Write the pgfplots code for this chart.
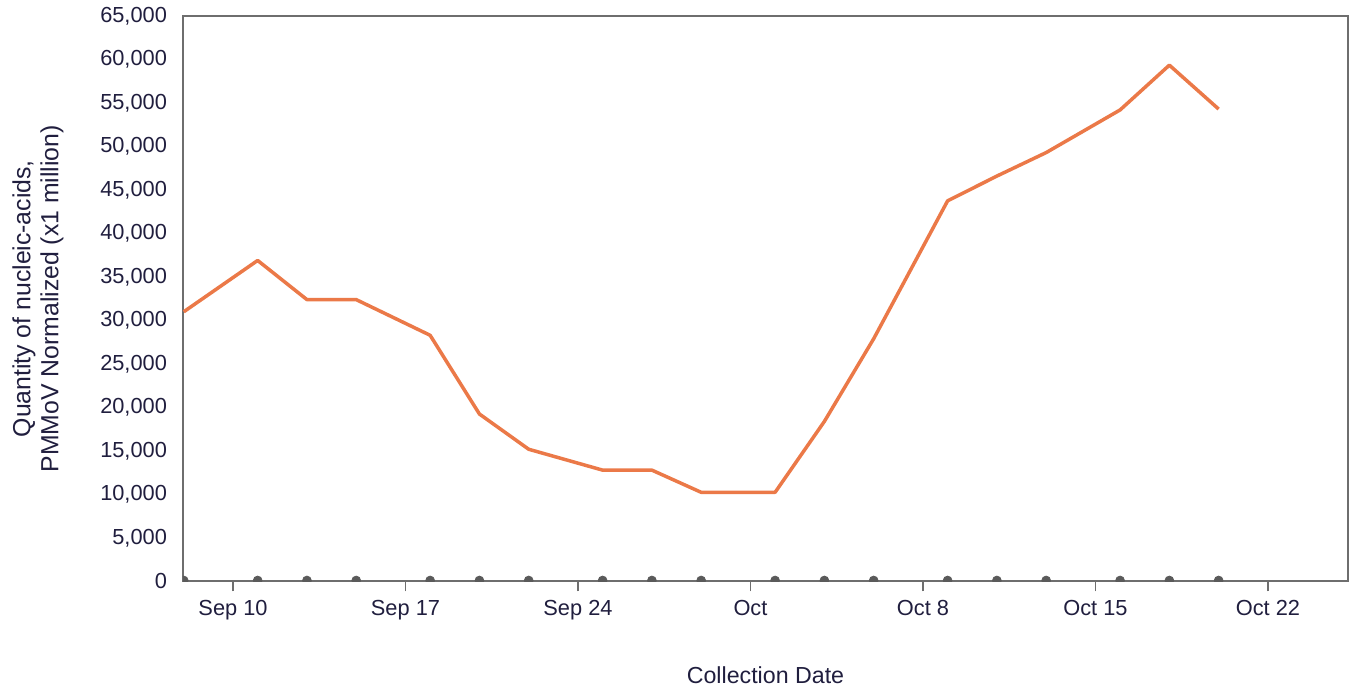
\documentclass[border=0pt]{standalone}
\usepackage{pgfplots}
\pgfplotsset{compat=1.18}
\usepackage{fontspec}
\setmainfont{Liberation Sans}
\definecolor{txt}{RGB}{32,30,62}
\definecolor{ln}{RGB}{235,121,72}
\definecolor{axc}{RGB}{110,110,110}
\definecolor{dotc}{RGB}{90,90,90}
\begin{document}
\begin{tikzpicture}
\path[use as bounding box] (-91.5pt,-54.25pt) rectangle (584pt,290.75pt);
\begin{axis}[at={(0,0)}, anchor=south west, scale only axis,
  width=582.5pt, height=282.75pt,
  xmin=-2.03, xmax=45.25, ymin=0, ymax=65000,
  xtick={0,7,14,21,28,35,42},
  xticklabels={Sep 10,Sep 17,Sep 24,Oct,Oct 8,Oct 15,Oct 22},
  ytick={0,5000,...,65000},
  scaled y ticks=false,
  /pgf/number format/.cd, fixed, 1000 sep={,}, assume math mode=true, /pgfplots/.cd,
  tick label style={font=\fontsize{10.9}{12.5}\selectfont, text=txt},
  axis line style={axc, line width=1pt},
  xtick pos=lower, ytick pos=left,
  tick align=outside,
  xtick style={axc, line width=0.8pt}, major tick length=5pt,
  ytick style={draw=none},
  yticklabel style={xshift=0.5pt},
  xticklabel style={yshift=-1pt},
  xlabel={Collection Date},
  x label style={at={(axis description cs:0.5,0)}, anchor=center, yshift=-46.75pt,
    font=\fontsize{11.6}{13}\selectfont, text=txt},
  ylabel={Quantity of nucleic-acids,\\PMMoV Normalized (x1 million)},
  y label style={at={(axis description cs:-0.1245,0.5)}, anchor=center, align=center,
    font=\fontsize{12.4}{14}\selectfont, text=txt},
  clip marker paths=true,
]
\addplot[ln, line width=1.75pt, line join=round, mark=none] coordinates {
(-2,31000) (1,36900) (3,32400) (5,32400) (8,28300) (10,19250) (12,15200)
(15,12800) (17,12800) (19,10250) (22,10250) (24,18400) (26,27900)
(29,43750) (31,46600) (33,49300) (36,54200) (38,59350) (40,54300)
};
\addplot[only marks, mark=*, mark size=2.2pt, dotc, mark options={draw=dotc, fill=dotc, yshift=0.5pt}] coordinates {
(-2,0) (1,0) (3,0) (5,0) (8,0) (10,0) (12,0)
(15,0) (17,0) (19,0) (22,0) (24,0) (26,0)
(29,0) (31,0) (33,0) (36,0) (38,0) (40,0)
};
\end{axis}
\end{tikzpicture}
\end{document}
